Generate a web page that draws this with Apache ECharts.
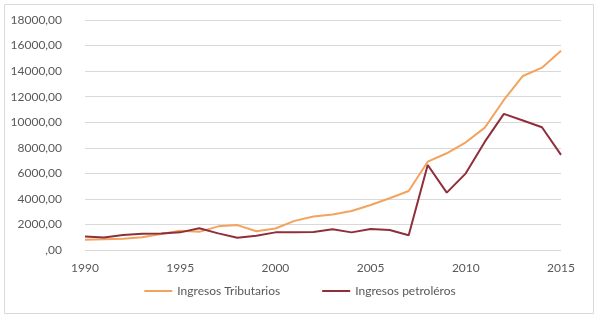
<!DOCTYPE html>
<html>
<head>
<meta charset="utf-8">
<script src="https://cdn.jsdelivr.net/npm/echarts@6/dist/echarts.min.js"></script>
<style>
html, body { margin: 0; padding: 0; background: #fff; }
#chart { width: 600px; height: 321px; }
</style>
</head>
<body>
<div id="chart"></div>
<script>
var years = [1990, 1991, 1992, 1993, 1994, 1995, 1996, 1997, 1998, 1999, 2000, 2001, 2002,
    2003, 2004, 2005, 2006, 2007, 2008, 2009, 2010, 2011, 2012, 2013, 2014, 2015];
// Ingresos Tributarios
var tributarios = [800, 850, 880, 1000, 1250, 1500, 1420, 1850, 1950, 1470, 1680, 2280, 2620,
    2780, 3050, 3520, 4050, 4620, 6910, 7570, 8430, 9580, 11740, 13620, 14270, 15600];
// Ingresos petroléros
var petroleros = [1050, 970, 1170, 1270, 1300, 1380, 1700, 1300, 960, 1120, 1380, 1390, 1400,
    1620, 1380, 1640, 1560, 1150, 6650, 4490, 6000, 8480, 10650, 10130, 9610, 7440];

function pairs(vals) {
    var out = [];
    for (var i = 0; i < years.length; i++) {
        out.push([years[i], vals[i]]);
    }
    return out;
}

var myChart = echarts.init(document.getElementById('chart'));
var textFont = 'Lato, "Open Sans", sans-serif';
var option = {
    animation: false,
    textStyle: { fontFamily: textFont },
    graphic: [{
        type: 'rect',
        shape: { x: 4.5, y: 4.5, width: 589, height: 309 },
        style: { fill: 'none', stroke: '#d9d9d9', lineWidth: 1 },
        silent: true
    }],
    grid: { left: 85, right: 39, top: 20, bottom: 71 },
    legend: {
        bottom: 19,
        left: 'center',
        itemWidth: 28,
        itemHeight: 2,
        itemGap: 42,
        icon: 'rect',
        textStyle: { color: '#595959', fontSize: 12, fontFamily: textFont },
        data: ['Ingresos Tributarios', 'Ingresos petroléros']
    },
    xAxis: {
        type: 'value',
        min: 1990,
        max: 2015,
        interval: 5,
        axisLine: { show: false },
        axisTick: { show: false },
        splitLine: { show: false },
        axisLabel: {
            color: '#595959',
            fontSize: 12,
            margin: 12,
            formatter: function (v) { return String(v); }
        }
    },
    yAxis: {
        type: 'value',
        min: 0,
        max: 18000,
        interval: 2000,
        axisLine: { show: false },
        axisTick: { show: false },
        splitLine: { lineStyle: { color: '#d9d9d9', width: 1 } },
        axisLabel: {
            color: '#595959',
            fontSize: 12,
            margin: 23,
            formatter: function (v) { return v === 0 ? ',00' : v + ',00'; }
        }
    },
    series: [
        {
            name: 'Ingresos Tributarios',
            type: 'line',
            data: pairs(tributarios),
            showSymbol: false,
            lineStyle: { color: '#f2a35e', width: 2 },
            itemStyle: { color: '#f2a35e' }
        },
        {
            name: 'Ingresos petroléros',
            type: 'line',
            data: pairs(petroleros),
            showSymbol: false,
            lineStyle: { color: '#8e2f3a', width: 2 },
            itemStyle: { color: '#8e2f3a' }
        }
    ]
};
myChart.setOption(option);
</script>
</body>
</html>
